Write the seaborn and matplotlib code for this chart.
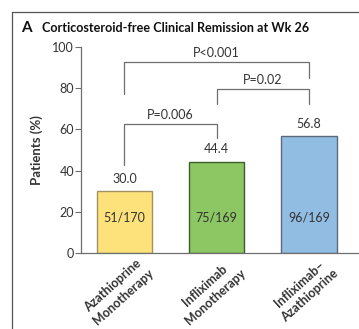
import matplotlib

matplotlib.use("Agg")
import matplotlib.pyplot as plt
import pandas as pd
import seaborn as sns
from matplotlib.lines import Line2D
from matplotlib.transforms import ScaledTranslation

groups = ["Azathioprine\nMonotherapy", "Infliximab\nMonotherapy", "Infliximab–\nAzathioprine"]
remission = [30.0, 44.4, 56.8]
counts = ["51/170", "75/169", "96/169"]
bar_colors = ["#fde27c", "#8cc763", "#92bde3"]
edge_colors = ["#a39160", "#3f5e2e", "#5d6878"]

# comparisons: (left bar, right bar, bracket top, left leg end, right leg end, label)
pairs = [(0, 2, 92.7, 77.0, 85.0, "P<0.001"),
         (1, 2, 79.6, 72.3, 72.3, "P=0.02"),
         (0, 1, 62.6, 42.7, 55.8, "P=0.006")]

sns.set_style("white")
plt.rcParams["font.family"] = ["Lato", "DejaVu Sans"]
text_col = "#333333"
line_col = "#6e6e6e"

df = pd.DataFrame({"group": groups, "pct": remission})

fig = plt.figure(figsize=(3.59, 3.29), dpi=100)
ax = fig.add_axes([0.2256, 0.231, 0.7714, 0.626])

sns.barplot(data=df, x="group", y="pct", hue="group", palette=bar_colors,
            width=0.6, legend=False, ax=ax, linewidth=1.0, saturation=1)
for patch, ec in zip(ax.patches, edge_colors):
    patch.set_edgecolor(ec)

ax.set_xlim(-0.47, 2.53)
ax.set_ylim(0, 100)
ax.set_yticks(range(0, 101, 20))
ax.tick_params(axis="y", length=4, width=0.8, color=line_col, labelsize=9,
               labelcolor=text_col, pad=1, left=True)
ax.tick_params(axis="x", length=0, labelsize=9, labelcolor=text_col, pad=0)
for s in ["top", "right"]:
    ax.spines[s].set_visible(False)
for s in ["left", "bottom"]:
    ax.spines[s].set_color(line_col)
    ax.spines[s].set_linewidth(0.9)

ax.set_xlabel("")
ax.set_ylabel("Patients (%)", fontsize=9.5, fontweight="bold", color=text_col, labelpad=7)

ax.set_xticks(range(len(groups)))
ax.set_xticklabels(groups, rotation=42, ha="right", va="top",
                   rotation_mode="anchor", multialignment="center",
                   fontweight="bold", linespacing=1.3)
shift = ScaledTranslation(13 / 100, -3 / 100, fig.dpi_scale_trans)
for lbl in ax.get_xticklabels():
    lbl.set_transform(lbl.get_transform() + shift)

for i, (v, c) in enumerate(zip(remission, counts)):
    ax.text(i, v + 3.0, f"{v:.1f}", ha="center", va="bottom", fontsize=9, color=text_col)
    ax.text(i, 17, c, ha="center", va="center", fontsize=9, color=text_col)

for a, b, top, la, lb, lab in pairs:
    ax.plot([a, a, b, b], [la, top, top, lb], color=line_col, lw=0.9, clip_on=False)
    ax.text((a + b) / 2, top + 1.3, lab, ha="center", va="bottom", fontsize=9,
            color=text_col, clip_on=False)

fig.text(0.058, 0.915, "A", fontsize=11, fontweight="bold", color="#111111", va="center")
fig.text(0.117, 0.915, "Corticosteroid-free Clinical Remission at Wk 26", fontsize=9.1,
         fontweight="bold", color="#111111", va="center")

fig.add_artist(Line2D([0.033, 0.033], [0.0, 0.964], transform=fig.transFigure,
                      color="#555555", lw=0.9))
fig.add_artist(Line2D([0.033, 1.0], [0.964, 0.964], transform=fig.transFigure,
                      color="#555555", lw=0.9))

fig.savefig("out.png", dpi=100)
plt.close(fig)
